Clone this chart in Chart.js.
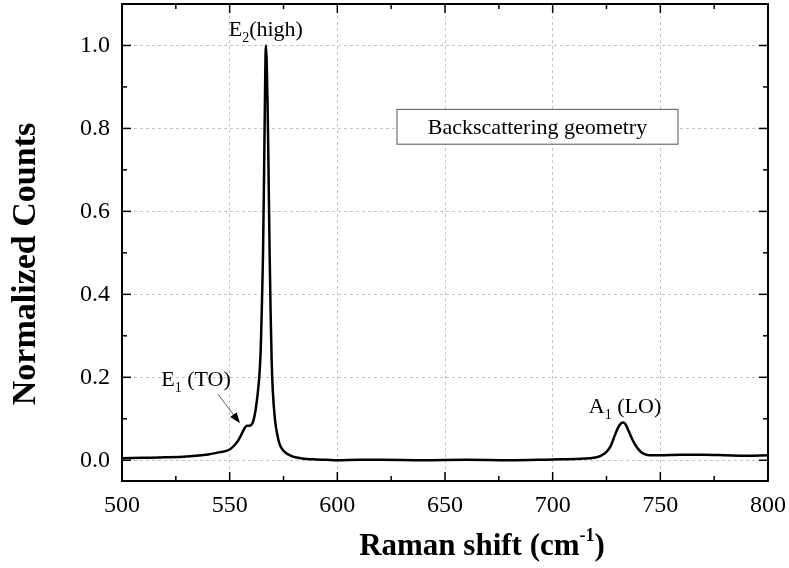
<!DOCTYPE html>
<html>
<head>
<meta charset="utf-8">
<script src="https://cdn.jsdelivr.net/npm/chart.js@4/dist/chart.umd.min.js"></script>
<style>
  html, body { margin: 0; padding: 0; background: #fff; }
  #wrap { width: 789px; height: 568px; position: relative; }
</style>
</head>
<body>
<div id="wrap"><canvas id="chart"></canvas></div>
<script>
// Raman spectrum
const ramanShift = [
  500, 510, 520, 530, 540, 545, 548, 550, 552, 554, 556, 557, 558, 559, 560,
  561, 562, 563, 564, 564.5, 565, 565.5, 566, 566.5, 566.8, 567.2, 567.6, 568,
  568.5, 569, 569.5, 570, 571, 572, 573, 574, 576, 578, 580, 583, 586, 590, 595,
  600, 610, 620, 640, 660, 680, 700, 710, 715, 719, 722, 725, 727, 729, 730.5,
  732, 733, 734, 735.5, 737, 739, 741, 743, 745, 750, 760, 770, 780, 790, 800
];
const normCounts = [
  0.005, 0.006, 0.007, 0.009, 0.014, 0.019, 0.022, 0.026, 0.035, 0.048, 0.068, 0.078, 0.083, 0.083, 0.085,
  0.095, 0.12, 0.16, 0.22, 0.28, 0.38, 0.50, 0.70, 0.92, 1.0, 0.96, 0.86, 0.72,
  0.52, 0.36, 0.24, 0.17, 0.10, 0.065, 0.042, 0.03, 0.018, 0.012, 0.008, 0.005, 0.003, 0.002, 0.001,
  0.0, 0.001, 0.001, 0.0, 0.001, 0.0, 0.002, 0.003, 0.004, 0.006, 0.01, 0.02, 0.035, 0.062, 0.08,
  0.09, 0.091, 0.085, 0.068, 0.05, 0.032, 0.02, 0.014, 0.012, 0.012, 0.013, 0.013, 0.012, 0.011, 0.012
];
const xTickValues = [500, 550, 600, 650, 700, 750, 800];
const yTickValues = [0.0, 0.2, 0.4, 0.6, 0.8, 1.0];

// peak labels (data coordinates of label centre / baseline)
const peakLabels = [
  { main: 'E', sub: '2', rest: '(high)', x: 566.8, y: 1.022 },
  { main: 'E', sub: '1', rest: ' (TO)', x: 534.4, y: 0.178 },
  { main: 'A', sub: '1', rest: ' (LO)', x: 733.6, y: 0.113 },
];
const arrowFrom = { x: 544.6, y: 0.159 };
const arrowTo = { x: 554.8, y: 0.089 };
const boxText = 'Backscattering geometry';
const boxCorners = { x1: 627.7, x2: 758.2, y1: 0.846, y2: 0.762 };

const SERIF = '"Liberation Serif", "Times New Roman", serif';

function line(ctx, x1, y1, x2, y2) {
  ctx.beginPath();
  ctx.moveTo(x1, y1);
  ctx.lineTo(x2, y2);
  ctx.stroke();
}

function drawSubLabel(ctx, item, cx, baseline) {
  const mainFont = `22px ${SERIF}`;
  const subFont = `14px ${SERIF}`;
  ctx.font = mainFont;
  const w1 = ctx.measureText(item.main).width;
  const w3 = ctx.measureText(item.rest).width;
  ctx.font = subFont;
  const w2 = ctx.measureText(item.sub).width;
  let x = cx - (w1 + w2 + w3) / 2;
  ctx.textAlign = 'left';
  ctx.textBaseline = 'alphabetic';
  ctx.font = mainFont;
  ctx.fillText(item.main, x, baseline);
  x += w1;
  ctx.font = subFont;
  ctx.fillText(item.sub, x, baseline + 6);
  x += w2;
  ctx.font = mainFont;
  ctx.fillText(item.rest, x, baseline);
}

function noPadding(scale) {
  scale.paddingTop = 0;
  scale.paddingBottom = 0;
  scale.paddingLeft = 0;
  scale.paddingRight = 0;
}

const framePlugin = {
  id: 'frame',
  afterDraw(chart) {
    const { ctx, chartArea: a, scales: { x, y } } = chart;
    ctx.save();
    ctx.strokeStyle = '#000';
    ctx.fillStyle = '#000';

    // ticks on all four sides, pointing inward
    ctx.lineWidth = 1.5;
    xTickValues.forEach((v, i) => {
      const px = x.getPixelForValue(v);
      line(ctx, px, a.bottom, px, a.bottom - 9);
      line(ctx, px, a.top, px, a.top + 9);
      if (i < xTickValues.length - 1) {
        const mx = x.getPixelForValue((v + xTickValues[i + 1]) / 2);
        line(ctx, mx, a.bottom, mx, a.bottom - 5);
        line(ctx, mx, a.top, mx, a.top + 5);
      }
    });
    yTickValues.forEach((v, i) => {
      const py = y.getPixelForValue(v);
      line(ctx, a.left, py, a.left + 9, py);
      line(ctx, a.right, py, a.right - 9, py);
      if (i < yTickValues.length - 1) {
        const my = y.getPixelForValue((v + yTickValues[i + 1]) / 2);
        line(ctx, a.left, my, a.left + 5, my);
        line(ctx, a.right, my, a.right - 5, my);
      }
    });

    // frame
    ctx.lineWidth = 2;
    ctx.strokeRect(a.left, a.top, a.right - a.left, a.bottom - a.top);

    // peak labels
    peakLabels.forEach((item) => {
      drawSubLabel(ctx, item, x.getPixelForValue(item.x), y.getPixelForValue(item.y));
    });

    // arrow to the E1(TO) shoulder
    const ax1 = x.getPixelForValue(arrowFrom.x), ay1 = y.getPixelForValue(arrowFrom.y);
    const ax2 = x.getPixelForValue(arrowTo.x), ay2 = y.getPixelForValue(arrowTo.y);
    const ang = Math.atan2(ay2 - ay1, ax2 - ax1);
    ctx.lineWidth = 0.8;
    ctx.strokeStyle = '#333';
    line(ctx, ax1, ay1, ax2 - 8 * Math.cos(ang), ay2 - 8 * Math.sin(ang));
    ctx.beginPath();
    ctx.moveTo(ax2, ay2);
    ctx.lineTo(ax2 - 11 * Math.cos(ang) + 4 * Math.sin(ang), ay2 - 11 * Math.sin(ang) - 4 * Math.cos(ang));
    ctx.lineTo(ax2 - 11 * Math.cos(ang) - 4 * Math.sin(ang), ay2 - 11 * Math.sin(ang) + 4 * Math.cos(ang));
    ctx.closePath();
    ctx.fill();

    // legend-like box
    const bx1 = x.getPixelForValue(boxCorners.x1), bx2 = x.getPixelForValue(boxCorners.x2);
    const by1 = y.getPixelForValue(boxCorners.y1), by2 = y.getPixelForValue(boxCorners.y2);
    ctx.fillStyle = '#fff';
    ctx.fillRect(bx1, by1, bx2 - bx1, by2 - by1);
    ctx.strokeStyle = '#555';
    ctx.lineWidth = 1;
    ctx.strokeRect(bx1, by1, bx2 - bx1, by2 - by1);
    ctx.fillStyle = '#000';
    ctx.font = `22px ${SERIF}`;
    ctx.textAlign = 'center';
    ctx.textBaseline = 'middle';
    ctx.fillText(boxText, (bx1 + bx2) / 2, (by1 + by2) / 2 + 1);

    // axis titles
    ctx.save();
    ctx.translate(26, 264);
    ctx.rotate(-Math.PI / 2);
    ctx.font = `bold 34px ${SERIF}`;
    ctx.textAlign = 'center';
    ctx.textBaseline = 'middle';
    ctx.fillText('Normalized Counts', 0, 0);
    ctx.restore();

    const big = `bold 31px ${SERIF}`;
    const small = `bold 18px ${SERIF}`;
    ctx.textAlign = 'left';
    ctx.textBaseline = 'alphabetic';
    ctx.font = big;
    const t1 = 'Raman shift (cm';
    const wt1 = ctx.measureText(t1).width;
    ctx.font = small;
    const wsup = ctx.measureText('-1').width;
    ctx.font = big;
    const wt3 = ctx.measureText(')').width;
    let tx = 482 - (wt1 + wsup + wt3) / 2;
    ctx.fillText(t1, tx, 555);
    tx += wt1;
    ctx.font = small;
    ctx.fillText('-1', tx, 541);
    tx += wsup;
    ctx.font = big;
    ctx.fillText(')', tx, 555);

    ctx.restore();
  }
};

new Chart(document.getElementById('chart'), {
  type: 'line',
  data: {
    datasets: [{
      data: ramanShift.map((v, i) => ({ x: v, y: normCounts[i] })),
      borderColor: '#000',
      borderWidth: 2.5,
      pointRadius: 0,
      fill: false,
      cubicInterpolationMode: 'monotone',
    }],
  },
  options: {
    responsive: true,
    maintainAspectRatio: false,
    animation: false,
    layout: { padding: { top: 4, right: 21, left: 0, bottom: 0 } },
    plugins: { legend: { display: false }, tooltip: { enabled: false } },
    scales: {
      x: {
        type: 'linear',
        min: 500,
        max: 800,
        afterBuildTicks: (scale) => { scale.ticks = xTickValues.map((v) => ({ value: v })); },
        afterFit: (scale) => { scale.height = 87; noPadding(scale); },
        grid: { color: '#c4c4c4', lineWidth: 1, drawTicks: false },
        border: { display: false, dash: [3, 3] },
        ticks: {
          autoSkip: false,
          maxRotation: 0,
          padding: 10,
          color: '#000',
          font: { family: SERIF, size: 24 },
          callback: (v) => String(v),
        },
      },
      y: {
        min: -0.05,
        max: 1.1,
        afterBuildTicks: (scale) => { scale.ticks = yTickValues.map((v) => ({ value: v })); },
        afterFit: (scale) => { scale.width = 122; noPadding(scale); },
        grid: { color: '#c4c4c4', lineWidth: 1, drawTicks: false },
        border: { display: false, dash: [3, 3] },
        ticks: {
          autoSkip: false,
          padding: 12,
          color: '#000',
          font: { family: SERIF, size: 24 },
          callback: (v) => Number(v).toFixed(1),
        },
      },
    },
  },
  plugins: [framePlugin],
});
</script>
</body>
</html>
